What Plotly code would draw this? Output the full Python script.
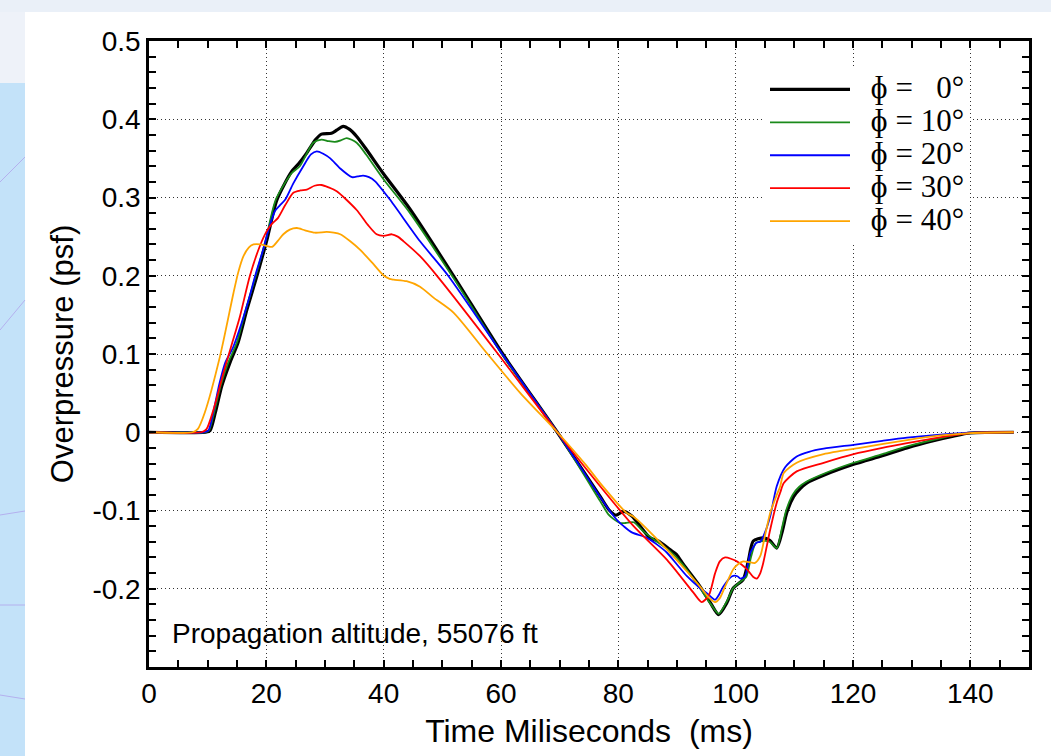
import plotly.graph_objects as go

# phi = 0 deg
t0 = [0, 9.6, 10.4, 11.3, 12.4, 13.8, 15.2, 16.7, 18.4, 20.1, 21.8, 24.3, 25.5, 26.9, 28.4, 29.4,
      31.1, 32.0, 33.1, 34.2, 35.4, 37.0, 40.0, 44.5, 51.9, 60.3, 69.6, 76.9, 78.5, 79.6, 80.9,
      82.3, 85.4, 86.8, 88.8, 89.9, 91.1, 93.9, 95.7, 97.1, 98.5, 99.6, 101.3, 102.2, 103.0,
      104.7, 105.8, 107.0, 108.0, 108.7, 109.9, 111.0, 112.1, 115.0, 120.1, 125.0, 129.2,
      133.0, 137.1, 140.0, 147.4]
p0 = [0, 0, 0.002, 0.025, 0.059, 0.089, 0.115, 0.157, 0.200, 0.246, 0.297, 0.333, 0.343, 0.357,
      0.374, 0.381, 0.382, 0.386, 0.391, 0.387, 0.378, 0.362, 0.330, 0.285, 0.200, 0.100, 0.0,
      -0.082, -0.100, -0.106, -0.101, -0.107, -0.135, -0.139, -0.150, -0.156, -0.169, -0.197,
      -0.218, -0.233, -0.218, -0.199, -0.188, -0.163, -0.139, -0.135, -0.138, -0.148, -0.125,
      -0.103, -0.082, -0.072, -0.065, -0.055, -0.041, -0.030, -0.020, -0.012, -0.005, -0.001, 0]

# phi = 10 deg
t10 = [0, 9.5, 10.2, 11.1, 12.2, 13.5, 15.0, 16.5, 18.2, 19.9, 21.6, 24.3, 25.7, 28.0, 29.4,
       30.6, 31.7, 32.7, 33.7, 35.4, 37.0, 40.0, 44.5, 51.9, 60.3, 69.6, 76.9, 78.3, 79.2, 80.3,
       81.2, 82.6, 84.3, 86.8, 88.8, 91.1, 93.9, 95.7, 97.1, 98.5, 99.6, 101.0, 101.8, 102.6,
       103.4, 104.7, 105.8, 107.0, 107.9, 108.6, 109.7, 110.8, 112.1, 115.0, 120.1, 125.0,
       129.2, 133.0, 137.1, 140.0, 147.4]
p10 = [0, 0, 0.002, 0.025, 0.059, 0.089, 0.115, 0.157, 0.200, 0.246, 0.297, 0.331, 0.340, 0.370,
       0.374, 0.372, 0.371, 0.373, 0.376, 0.370, 0.355, 0.323, 0.280, 0.197, 0.098, 0.0, -0.088,
       -0.105, -0.111, -0.116, -0.116, -0.115, -0.127, -0.141, -0.152, -0.170, -0.199, -0.219,
       -0.232, -0.216, -0.199, -0.190, -0.185, -0.160, -0.142, -0.139, -0.140, -0.148, -0.122,
       -0.100, -0.080, -0.070, -0.063, -0.053, -0.039, -0.028, -0.018, -0.011, -0.004, -0.001, 0]

# phi = 20 deg
t20 = [0, 9.3, 10.1, 11.0, 12.0, 13.0, 14.3, 15.8, 17.2, 18.1, 19.4, 20.5, 21.5, 22.3, 23.2,
       24.6, 26.3, 27.6, 28.6, 29.7, 30.9, 32.6, 34.6, 35.6, 36.5, 37.5, 38.5, 41.0, 46.2, 51.0,
       60.2, 69.6, 78.3, 80.0, 80.9, 82.3, 84.9, 86.5, 88.3, 90.0, 91.7, 93.9, 95.3, 96.5, 97.2,
       97.9, 99.4, 100.3, 100.8, 101.6, 102.5, 103.6, 104.2, 105.0, 105.9, 107.0, 108.4, 110.4,
       112.5, 115.0, 120.1, 125.0, 129.2, 134.9, 140.0, 147.4]
p20 = [0, 0, 0.002, 0.027, 0.062, 0.089, 0.108, 0.140, 0.175, 0.200, 0.232, 0.262, 0.283, 0.290,
       0.297, 0.318, 0.340, 0.355, 0.359, 0.356, 0.350, 0.337, 0.326, 0.327, 0.328, 0.326, 0.321,
       0.298, 0.244, 0.200, 0.100, 0.0, -0.098, -0.114, -0.120, -0.128, -0.135, -0.143, -0.154,
       -0.169, -0.184, -0.199, -0.207, -0.214, -0.207, -0.197, -0.184, -0.184, -0.187, -0.184,
       -0.154, -0.141, -0.140, -0.128, -0.107, -0.069, -0.045, -0.031, -0.025, -0.021, -0.016,
       -0.011, -0.007, -0.003, -0.0005, 0]

# phi = 30 deg
t30 = [0, 8.9, 9.8, 11.0, 12.7, 14.1, 15.5, 17.2, 18.9, 20.0, 20.9, 22.0, 23.2, 24.6, 25.8,
       26.9, 28.2, 29.4, 30.6, 32.0, 35.4, 37.3, 38.8, 40.0, 41.4, 42.4, 43.4, 46.2, 49.3, 59.5,
       69.6, 76.9, 82.6, 88.3, 92.8, 94.2, 95.4, 96.5, 97.3, 98.2, 100.2, 101.9, 103.0, 103.6,
       104.2, 104.7, 105.9, 107.0, 107.6, 108.2, 110.4, 115.0, 120.1, 125.0, 129.2, 136.0,
       140.0, 147.4]
p30 = [0, 0, 0.004, 0.029, 0.076, 0.112, 0.148, 0.200, 0.238, 0.256, 0.266, 0.274, 0.290, 0.306,
       0.309, 0.310, 0.315, 0.316, 0.313, 0.308, 0.284, 0.265, 0.253, 0.251, 0.253, 0.250, 0.244,
       0.225, 0.198, 0.100, 0.0, -0.069, -0.120, -0.163, -0.205, -0.217, -0.209, -0.180, -0.165,
       -0.160, -0.165, -0.175, -0.185, -0.187, -0.180, -0.167, -0.124, -0.090, -0.077, -0.065,
       -0.050, -0.039, -0.028, -0.020, -0.014, -0.005, -0.001, 0]

# phi = 40 deg
t40 = [0, 7.4, 8.3, 9.5, 12.1, 14.4, 15.2, 16.1, 17.0, 17.8, 19.0, 20.1, 21.0, 22.0, 22.9, 24.0,
       25.2, 26.6, 28.3, 30.3, 31.5, 32.6, 34.3, 36.0, 38.0, 39.9, 41.0, 41.7, 43.9, 46.2, 48.5,
       51.9, 57.6, 63.3, 69.6, 74.6, 76.9, 81.4, 82.6, 88.3, 93.9, 95.5, 96.5, 97.3, 98.2, 99.6,
       100.5, 101.3, 102.3, 103.3, 104.2, 105.0, 105.9, 107.0, 107.6, 108.2, 110.4, 115.0,
       121.2, 129.2, 135.0, 140.0, 147.4]
p40 = [0, 0, 0.004, 0.025, 0.097, 0.178, 0.204, 0.225, 0.236, 0.240, 0.240, 0.238, 0.237, 0.245,
       0.253, 0.259, 0.261, 0.258, 0.255, 0.256, 0.255, 0.253, 0.244, 0.233, 0.217, 0.201, 0.196,
       0.195, 0.193, 0.186, 0.172, 0.153, 0.101, 0.050, 0.0, -0.043, -0.065, -0.103, -0.108,
       -0.150, -0.197, -0.212, -0.217, -0.212, -0.197, -0.175, -0.168, -0.165, -0.166, -0.167,
       -0.158, -0.132, -0.103, -0.080, -0.069, -0.052, -0.039, -0.028, -0.020, -0.010, -0.004,
       -0.001, 0]

names = ["\u0278 = \u20070°", "\u0278 = 10°", "\u0278 = 20°", "\u0278 = 30°", "\u0278 = 40°"]
colors = ["black", "#1a8a1a", "#0000ff", "#ff0000", "#ffa500"]
widths = [3.2, 1.8, 1.8, 1.8, 1.8]
series = [(t0, p0), (t10, p10), (t20, p20), (t30, p30), (t40, p40)]

fig = go.Figure()
for (t, p), name, c, w in zip(series, names, colors, widths):
    fig.add_trace(go.Scatter(x=t, y=p, mode='lines',
                             name="<span style='font-size:31px'>  " + name + "</span>",
                             line=dict(color=c, width=w, shape='spline', smoothing=0.7)))

# page decoration (slide background around the white panel)
def px_x(px):
    return (px - 149) / 880.0

def px_y(py):
    return (667 - py) / 626.0

deco = [
    dict(type='rect', xref='paper', yref='paper', x0=px_x(0), x1=px_x(1051), y0=px_y(12), y1=px_y(0),
         fillcolor='#eaf0f8', line=dict(width=0), layer='below'),
    dict(type='rect', xref='paper', yref='paper', x0=px_x(0), x1=px_x(25), y0=px_y(83), y1=px_y(12),
         fillcolor='#eef2f9', line=dict(width=0), layer='below'),
    dict(type='rect', xref='paper', yref='paper', x0=px_x(0), x1=px_x(25), y0=px_y(756), y1=px_y(83),
         fillcolor='#c3e2f9', line=dict(width=0), layer='below'),
]
for a, b in [((0, 182), (25, 157)), ((0, 515), (25, 511)), ((0, 605), (25, 605)), ((0, 695), (25, 699)),
             ((0, 330), (25, 300))]:
    deco.append(dict(type='line', xref='paper', yref='paper', x0=px_x(a[0]), y0=px_y(a[1]),
                     x1=px_x(b[0]), y1=px_y(b[1]), line=dict(color='#b4b0ee', width=1), layer='below'))

axis_common = dict(showline=True, linewidth=2.5, linecolor='black', mirror='allticks',
                   ticks='inside', ticklen=7, tickwidth=1.5, tickcolor='black',
                   showgrid=True, gridcolor='#333333', gridwidth=1, griddash='1px,3px',
                   zeroline=False, tickfont=dict(family='Liberation Sans', size=28, color='black'))

fig.update_layout(
    width=1051, height=756,
    margin=dict(l=149, r=22, t=41, b=89),
    paper_bgcolor='white', plot_bgcolor='white',
    shapes=deco,
    xaxis=dict(range=[0, 150], tick0=0, dtick=20,
               minor=dict(dtick=5, ticks='inside', ticklen=7, tickcolor='black', tickwidth=1.5, showgrid=False),
               title=dict(text='Time Miliseconds  (ms)', standoff=12,
                          font=dict(family='Liberation Sans', size=32, color='black')),
               ticklabelstandoff=0, **axis_common),
    yaxis=dict(range=[-0.3, 0.5], tickmode='array',
               tickvals=[-0.2, -0.1, 0, 0.1, 0.2, 0.3, 0.4, 0.5],
               ticktext=['-0.2', '-0.1', '0', '0.1', '0.2', '0.3', '0.4', '0.5'],
               minor=dict(dtick=0.02, tick0=0, ticks='inside', ticklen=7, tickcolor='black', tickwidth=1.5,
                          showgrid=False),
               title=dict(text='Overpressure (psf)', standoff=10,
                          font=dict(family='Liberation Sans', size=31, color='black')),
               ticklabelstandoff=0, **axis_common),
    legend=dict(x=px_x(765), y=px_y(68), xanchor='left', yanchor='top', bgcolor='white',
                borderwidth=0, itemwidth=80, tracegroupgap=0,
                font=dict(family='Liberation Serif', size=23, color='black')),
    annotations=[dict(text='Propagation altitude, 55076 ft', xref='paper', yref='paper',
                      x=px_x(170), y=px_y(633), xanchor='left', yanchor='middle', showarrow=False,
                      font=dict(family='Liberation Sans', size=28, color='black'))],
)

# the page body has a default 8px margin; drop it so the figure fills the window
fig.write_html("out.html", config={'displayModeBar': False},
               post_script="document.body.style.margin='0px';")
